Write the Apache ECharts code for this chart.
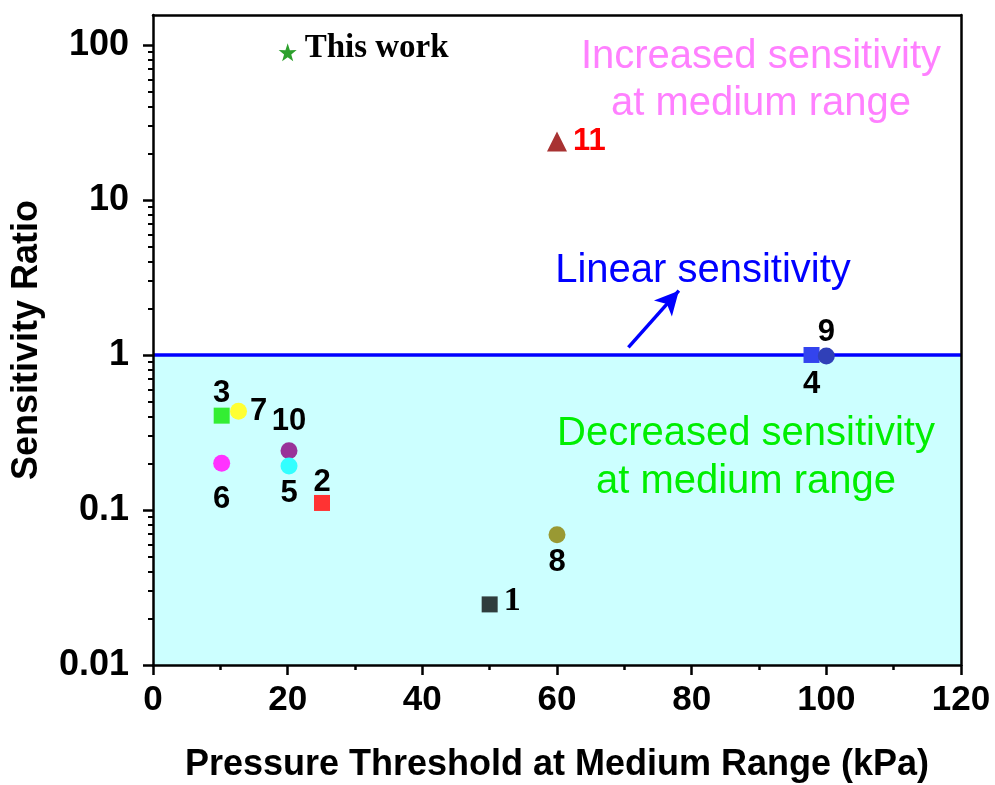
<!DOCTYPE html>
<html>
<head>
<meta charset="utf-8">
<script src="https://cdn.jsdelivr.net/npm/echarts@6/dist/echarts.min.js"></script>
<style>
html,body{margin:0;padding:0;background:#fff;}
#chart{width:995px;height:785px;}
</style>
</head>
<body>
<div id="chart"></div>
<script>
// ---- data ----
const pointNames = ['This work', '11', '4', '9', '3', '7', '6', '10', '5', '2', '8', '1'];
const pressureThreshold = [20, 60, 97.8, 100, 10.2, 12.7, 10.2, 20.2, 20.2, 25.1, 60, 50];
const sensitivityRatio = [89.7, 23.8, 1.0, 0.985, 0.406, 0.433, 0.200, 0.241, 0.192, 0.111, 0.0693, 0.0246];
const xTicks = [0, 20, 40, 60, 80, 100, 120];
const yTicks = [0.01, 0.1, 1, 10, 100];
const yMinorTicks = [0.02,0.03,0.04,0.05,0.06,0.07,0.08,0.09,0.2,0.3,0.4,0.5,0.6,0.7,0.8,0.9,2,3,4,5,6,7,8,9,20,30,40,50,60,70,80,90];
const linearLevel = 1;
const arrowFrom = [70.6, 1.12];
const arrowTo = [78.1, 2.6];

// ---- styles ----
const F = "'Liberation Sans', Arial, sans-serif";
const T = "'Liberation Serif', 'Times New Roman', serif";
const styles = {
  'This work': {symbol: 'path://M50,0 L61.8,35.1 L97.6,34.5 L69,56.2 L79.4,90.5 L50,70 L20.6,90.5 L31,56.2 L2.4,34.5 L38.2,35.1 Z', size: 18, color: '#2ca02c', label: {position: 'right', distance: 8, offset:[0,-4], fontFamily: T, fontSize: 33, color: '#000'}},
  '11': {symbol: 'triangle', size: 20, color: '#a83232', label: {position: 'right', distance: 6, fontFamily: F, fontSize: 31, color: '#ff0000'}},
  '4': {symbol: 'rect', size: 16, color: '#3344ee', label: {position: 'bottom', distance: 6, fontFamily: F, fontSize: 31, color: '#000'}},
  '9': {symbol: 'circle', size: 17, color: '#3040b8', label: {position: 'top', distance: 0, fontFamily: F, fontSize: 31, color: '#000'}},
  '3': {symbol: 'rect', size: 16, color: '#33ee33', label: {position: 'top', distance: -1, fontFamily: F, fontSize: 31, color: '#000'}},
  '7': {symbol: 'circle', size: 17, color: '#ffff33', label: {position: 'right', distance: 3, fontFamily: F, fontSize: 31, color: '#000'}},
  '6': {symbol: 'circle', size: 17, color: '#ff33ff', label: {position: 'bottom', distance: 12, fontFamily: F, fontSize: 31, color: '#000'}},
  '10': {symbol: 'circle', size: 17, color: '#993399', label: {position: 'top', distance: 5, fontFamily: F, fontSize: 31, color: '#000'}},
  '5': {symbol: 'circle', size: 17, color: '#33ffff', label: {position: 'bottom', distance: 3, fontFamily: F, fontSize: 31, color: '#000'}},
  '2': {symbol: 'rect', size: 16, color: '#ff3333', label: {position: 'top', distance: -3, fontFamily: F, fontSize: 31, color: '#000'}},
  '8': {symbol: 'circle', size: 17, color: '#999933', label: {position: 'bottom', distance: 4, fontFamily: F, fontSize: 31, color: '#000'}},
  '1': {symbol: 'rect', size: 16, color: '#2f3d3d', label: {position: 'right', distance: 6, offset:[0,-3], fontFamily: T, fontSize: 34, color: '#000'}}
};

const pointSeries = pointNames.map((name, i) => {
  const s = styles[name];
  return {
    type: 'scatter',
    name: name,
    xAxisIndex: 0, yAxisIndex: 0,
    symbol: s.symbol,
    symbolSize: s.size,
    itemStyle: {color: s.color, opacity: 1},
    z: 5,
    label: Object.assign({show: true, fontWeight: 'bold', formatter: name}, s.label),
    data: [[pressureThreshold[i], sensitivityRatio[i]]]
  };
});

const regionSeries = {
  type: 'line',
  xAxisIndex: 0, yAxisIndex: 0,
  data: [],
  z: 1,
  markArea: {
    silent: true,
    itemStyle: {color: '#ccffff'},
    data: [[{xAxis: xTicks[0], yAxis: yTicks[0]}, {xAxis: xTicks[xTicks.length - 1], yAxis: linearLevel}]]
  },
  markLine: {
    silent: true,
    symbol: ['none', 'none'],
    label: {show: false},
    lineStyle: {color: '#0000ff', width: 3.5, type: 'solid'},
    data: [
      [{coord: [xTicks[0], linearLevel]}, {coord: [xTicks[xTicks.length - 1], linearLevel]}],
      [{coord: arrowFrom, symbol: 'none'}, {coord: arrowTo, symbol: 'arrow', symbolSize: [18, 24]}]
    ]
  }
};

const axisLineStyle = {color: '#000', width: 2.5};

const option = {
  animation: false,
  backgroundColor: '#fff',
  grid: {left: 153, right: 34, top: 15, bottom: 120, containLabel: false, outerBoundsMode: 'none'},
  xAxis: [
    {
      type: 'value', min: 0, max: 120, interval: 20, position: 'bottom', z: 10,
      name: 'Pressure Threshold at Medium Range (kPa)', nameLocation: 'middle', nameGap: 82,
      nameTextStyle: {fontFamily: F, fontWeight: 'bold', fontSize: 36, color: '#000'},
      axisLine: {show: true, onZero: false, lineStyle: axisLineStyle},
      axisTick: {show: true, inside: false, length: 10, lineStyle: {color: '#000', width: 2.5}},
      minorTick: {show: true, splitNumber: 2, length: 5, lineStyle: {color: '#000', width: 2.5}},
      axisLabel: {fontFamily: F, fontWeight: 'bold', fontSize: 35, color: '#000', margin: 18},
      splitLine: {show: false}
    },
    {
      type: 'value', min: 0, max: 120, position: 'top', z: 10,
      axisLine: {show: true, onZero: false, lineStyle: axisLineStyle},
      axisTick: {show: false}, axisLabel: {show: false}, splitLine: {show: false}
    }
  ],
  yAxis: [
    {
      type: 'log', logBase: 10, min: 0.01, max: 156, position: 'left', z: 10,
      name: 'Sensitivity Ratio', nameLocation: 'middle', nameGap: 108, nameRotate: 90,
      nameTextStyle: {fontFamily: F, fontWeight: 'bold', fontSize: 36, color: '#000'},
      axisLine: {show: true, onZero: false, lineStyle: axisLineStyle},
      axisTick: {show: true, length: 10, customValues: yTicks, lineStyle: {color: '#000', width: 2.5}},
      axisLabel: {fontFamily: F, fontWeight: 'bold', fontSize: 36, color: '#000', margin: 24, customValues: yTicks,
        formatter: v => String(v)},
      splitLine: {show: false}
    },
    {
      type: 'log', logBase: 10, min: 0.01, max: 156, position: 'left', z: 9,
      axisLine: {show: false, onZero: false},
      axisTick: {show: true, length: 5, customValues: yMinorTicks, lineStyle: {color: '#000', width: 2}},
      axisLabel: {show: false, customValues: yMinorTicks}, splitLine: {show: false}
    },
    {
      type: 'log', logBase: 10, min: 0.01, max: 156, position: 'right', z: 10,
      axisLine: {show: true, onZero: false, lineStyle: axisLineStyle},
      axisTick: {show: false}, axisLabel: {show: false}, splitLine: {show: false}
    }
  ],
  graphic: [
    {type: 'text', x: 761, y: 80, style: {text: 'Increased sensitivity\nat medium range', align: 'center', verticalAlign: 'middle', lineHeight: 47, fontFamily: F, fontSize: 40, fill: '#ff80ff'}, z: 20},
    {type: 'text', x: 703, y: 271, style: {text: 'Linear sensitivity', align: 'center', verticalAlign: 'middle', fontFamily: F, fontSize: 40, fill: '#0000ff'}, z: 20},
    {type: 'text', x: 746, y: 458, style: {text: 'Decreased sensitivity\nat medium range', align: 'center', verticalAlign: 'middle', lineHeight: 48, fontFamily: F, fontSize: 40, fill: '#00ee00'}, z: 20}
  ],
  series: [regionSeries].concat(pointSeries)
};

const chart = echarts.init(document.getElementById('chart'), null, {renderer: 'canvas'});
chart.setOption(option);
</script>
</body>
</html>
